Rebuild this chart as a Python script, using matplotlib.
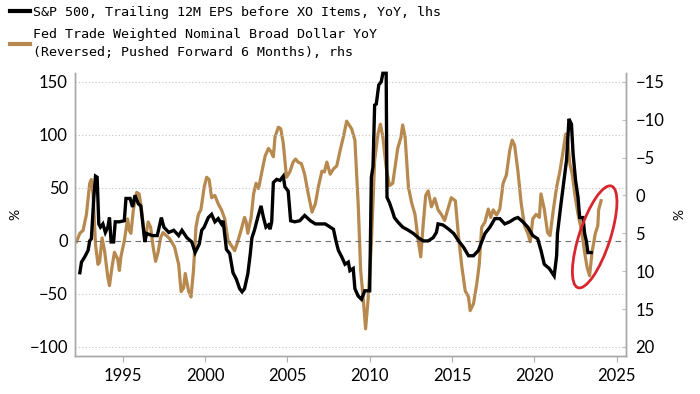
import numpy as np
import matplotlib
matplotlib.use("Agg")
import matplotlib.pyplot as plt
from matplotlib.lines import Line2D
from matplotlib.patches import Ellipse
from matplotlib.transforms import ScaledTranslation

# S&P 500 trailing 12M EPS YoY (%), left axis
eps_years = [1992.4, 1992.5, 1992.7, 1992.9, 1993.0, 1993.1, 1993.25, 1993.35, 1993.45, 1993.55,
             1993.65, 1993.8, 1993.95, 1994.1, 1994.2, 1994.3, 1994.45, 1994.55, 1994.8, 1995.1,
             1995.2, 1995.45, 1995.6, 1995.75, 1995.95, 1996.1, 1996.35, 1996.45, 1996.8, 1997.1,
             1997.35, 1997.5, 1997.8, 1998.1, 1998.4, 1998.6, 1998.9, 1999.2, 1999.4, 1999.65,
             1999.8, 1999.95, 2000.2, 2000.4, 2000.6, 2000.8, 2001.0, 2001.1, 2001.3, 2001.5,
             2001.7, 2001.9, 2002.1, 2002.25, 2002.4, 2002.6, 2002.75, 2002.85, 2003.0, 2003.2,
             2003.4, 2003.55, 2003.7, 2003.85, 2003.95, 2004.05, 2004.15, 2004.35, 2004.55, 2004.75,
             2004.85, 2005.05, 2005.2, 2005.45, 2005.75, 2006.05, 2006.4, 2006.7, 2007.0, 2007.3,
             2007.6, 2007.8, 2007.95, 2008.1, 2008.3, 2008.5, 2008.7, 2008.8, 2009.0, 2009.1,
             2009.3, 2009.5, 2009.7, 2010.0, 2010.1, 2010.2, 2010.3, 2010.4, 2010.55, 2010.7,
             2010.8, 2011.0, 2011.05, 2011.2, 2011.4, 2011.5, 2011.7, 2012.0, 2012.35, 2012.65,
             2012.95, 2013.25, 2013.55, 2013.85, 2014.05, 2014.15, 2014.45, 2014.8, 2015.1, 2015.4,
             2015.7, 2016.0, 2016.3, 2016.6, 2016.8, 2017.0, 2017.3, 2017.6, 2017.9, 2018.2,
             2018.5, 2018.8, 2019.0, 2019.3, 2019.6, 2019.9, 2020.2, 2020.4, 2020.6, 2020.9,
             2021.2, 2021.35, 2021.4, 2021.6, 2021.8, 2021.95, 2022.1, 2022.25, 2022.35, 2022.5,
             2022.65, 2022.75, 2022.95, 2023.05, 2023.15, 2023.25, 2023.45]
eps_yoy = [-30, -20, -15, -9, 0, 2, 41, 61, 60, 16,
           13, 16, 8, 13, 22, -1, -1, 18, 18, 19,
           40, 40, 32, 43, 35, 33, -1, 7, 5, 5,
           22, 13, 8, 10, 5, 10, 3, -1, -11, -3,
           10, 13, 22, 25, 18, 21, 16, 19, -8, -12,
           -30, -36, -45, -48, -45, -31, -12, 3, 10, 22,
           33, 22, 13, 15, 11, 18, 55, 58, 57, 61,
           51, 47, 19, 18, 19, 24, 19, 16, 16, 16,
           13, 11, 0, -9, -15, -22, -20, -28, -26, -45,
           -52, -55, -47, -47, 60, 70, 128, 129, 147, 150,
           158, 158, 41, 36, 27, 22, 18, 13, 10, 7,
           3, 0, 0, 3, 8, 16, 15, 11, 7, 0,
           -6, -14, -14, -9, -1, 7, 13, 21, 21, 16,
           18, 21, 22, 18, 13, 5, 2, -9, -22, -26,
           -33, -14, 7, 33, 58, 76, 115, 110, 82, 57,
           41, 22, 22, 7, 0, -11, -11]

# Fed trade weighted broad dollar YoY (%), pushed forward 6 months, right axis (reversed)
usd_years = [1992.2, 1992.4, 1992.6, 1992.8, 1993.0, 1993.1, 1993.2, 1993.35, 1993.5, 1993.6,
             1993.75, 1993.9, 1994.1, 1994.2, 1994.35, 1994.5, 1994.7, 1994.8, 1994.9, 1995.1,
             1995.3, 1995.4, 1995.5, 1995.65, 1995.85, 1996.0, 1996.15, 1996.35, 1996.55, 1996.7,
             1996.85, 1997.0, 1997.15, 1997.3, 1997.45, 1997.65, 1997.85, 1998.15, 1998.4, 1998.55,
             1998.7, 1998.8, 1999.0, 1999.15, 1999.3, 1999.45, 1999.6, 1999.75, 1999.95, 2000.1,
             2000.25, 2000.4, 2000.6, 2000.8, 2001.0, 2001.2, 2001.4, 2001.6, 2001.8, 2002.0,
             2002.2, 2002.4, 2002.5, 2002.6, 2002.8, 2002.95, 2003.1, 2003.25, 2003.45, 2003.65,
             2003.85, 2004.0, 2004.15, 2004.25, 2004.45, 2004.6, 2004.75, 2004.95, 2005.15, 2005.35,
             2005.5, 2005.65, 2005.85, 2006.05, 2006.25, 2006.5, 2006.7, 2006.9, 2007.1, 2007.25,
             2007.4, 2007.6, 2007.8, 2008.0, 2008.2, 2008.4, 2008.6, 2008.9, 2009.1, 2009.3,
             2009.45, 2009.6, 2009.75, 2009.9, 2010.1, 2010.3, 2010.5, 2010.65, 2010.8, 2011.0,
             2011.2, 2011.4, 2011.5, 2011.7, 2011.9, 2012.0, 2012.15, 2012.35, 2012.55, 2012.75,
             2012.95, 2013.1, 2013.25, 2013.4, 2013.55, 2013.75, 2013.95, 2014.15, 2014.35, 2014.55,
             2014.75, 2014.95, 2015.2, 2015.4, 2015.6, 2015.8, 2016.0, 2016.1, 2016.3, 2016.5,
             2016.65, 2016.8, 2017.0, 2017.2, 2017.35, 2017.5, 2017.7, 2017.9, 2018.1, 2018.3,
             2018.5, 2018.65, 2018.8, 2019.0, 2019.2, 2019.4, 2019.6, 2019.75, 2019.9, 2020.1,
             2020.3, 2020.4, 2020.6, 2020.8, 2020.95, 2021.15, 2021.35, 2021.55, 2021.75, 2021.9,
             2022.0, 2022.15, 2022.3, 2022.45, 2022.65, 2022.85, 2023.05, 2023.2, 2023.35, 2023.5,
             2023.7, 2023.85, 2023.9, 2024.05]
usd_yoy = [6.1, 5.0, 4.6, 2.5, -1.6, -2.1, -0.2, 6.4, 9.1, 8.8,
           5.6, 7.3, 10.8, 11.9, 9.5, 7.5, 8.4, 9.9, 8.0, 6.0,
           3.1, 4.6, 5.0, 1.9, -0.4, -0.2, 1.9, 6.0, 3.5, 4.2,
           6.8, 8.7, 7.5, 5.6, 4.9, 5.3, 5.7, 6.8, 9.1, 12.7,
           12.2, 10.3, 12.6, 13.4, 9.9, 4.2, 2.5, 1.9, -1.1, -2.4,
           -2.1, 0.3, 0.0, 1.1, 1.9, 3.1, 6.0, 6.6, 7.3, 6.0,
           4.5, 2.9, 3.5, 5.0, 2.9, -0.2, -1.6, -0.9, -3.1, -5.2,
           -6.2, -5.8, -5.1, -7.7, -9.0, -8.8, -6.9, -2.4, -3.1, -4.4,
           -4.8, -4.4, -4.2, -2.8, -0.4, 2.2, 1.1, -1.3, -3.2, -3.1,
           -4.4, -2.8, -3.5, -3.9, -5.9, -7.7, -9.8, -8.8, -7.3, 1.1,
           9.9, 13.4, 17.6, 13.8, 6.4, -4.6, -8.1, -9.4, -7.7, -3.7,
           -1.3, -1.6, -3.1, -6.2, -7.7, -9.3, -7.7, -1.1, 1.0, 2.5,
           6.0, 8.1, 3.8, 0.0, -0.6, 1.5, 0.4, 1.9, 2.5, 3.3,
           1.8, 0.3, 0.7, 5.6, 9.5, 12.6, 13.4, 15.2, 14.3, 11.7,
           9.1, 4.2, 3.5, 1.8, 2.9, 1.9, 2.6, 1.8, -1.6, -2.7,
           -5.9, -7.3, -6.6, -3.2, 1.1, 4.0, 5.0, 6.1, 3.1, 2.5,
           2.9, -0.2, 1.8, 4.9, 5.3, 1.9, -1.1, -3.2, -5.9, -8.1,
           -7.7, -4.2, -2.8, -0.2, 2.5, 4.5, 7.5, 9.5, 10.6, 7.5,
           5.0, 4.0, 1.9, 0.7]

left_ticks = [-100, -50, 0, 50, 100, 150]
right_ticks = [-15, -10, -5, 0, 5, 10, 15, 20]
year_ticks = [1995, 2000, 2005, 2010, 2015, 2020, 2025]

gold = '#B8894F'
tick_font = 'Lato'

fig = plt.figure(figsize=(7, 3.94), dpi=100)
ax1 = fig.add_axes([0.107, 0.0964, 0.787, 0.719])
ax2 = ax1.twinx()

# black on top of the gold line
ax1.set_zorder(ax2.get_zorder() + 1)
ax1.patch.set_visible(False)

ax2.plot(usd_years, usd_yoy, color=gold, lw=2.3, solid_joinstyle='round')
ax1.plot(eps_years, eps_yoy, color='black', lw=2.4, solid_joinstyle='miter', clip_on=False)

ax1.set_xlim(1992.1, 2025.55)
ax1.set_ylim(-108.5, 158.5)
ax2.set_ylim(21.19, -16.19)  # reversed

for v in left_ticks:
    if v == 0:
        ax1.axhline(v, color='#707070', lw=0.8, ls=(0, (5, 4)), zorder=1)
    else:
        ax1.axhline(v, color='#c4c4c4', lw=0.8, ls=(0, (1, 2)), zorder=1)

ax1.set_yticks(left_ticks)
ax2.set_yticks(right_ticks)
ax1.set_xticks(year_ticks)

for ax in (ax1, ax2):
    ax.spines['top'].set_visible(False)
    for s in ('left', 'right', 'bottom'):
        ax.spines[s].set_color('#a8a8a8')
        ax.spines[s].set_linewidth(1.0)

ax1.tick_params(axis='y', length=0, pad=5, labelsize=12)
ax1.tick_params(axis='x', length=4.5, width=0.8, color='#b0b0b0', pad=4, labelsize=12)
ax2.tick_params(axis='y', direction='in', length=3, width=0.8, color='#c0c0c0', pad=7, labelsize=12)
for lab in ax1.get_xticklabels() + ax1.get_yticklabels() + ax2.get_yticklabels():
    lab.set_fontfamily(tick_font)

ax1.set_ylabel('%', fontsize=10, family=tick_font, labelpad=6)
ax2.set_ylabel('%', fontsize=10, family=tick_font, rotation=270, labelpad=12)

# red ellipse highlighting the latest turn
ell_center = (2023.66, 3.8)
ell = Ellipse((0, 0), 1.07, 0.31, angle=71.8, fill=False, edgecolor='#d8262e', lw=2.0,
              transform=fig.dpi_scale_trans + ScaledTranslation(ell_center[0], ell_center[1], ax1.transData),
              zorder=5)
ax1.add_patch(ell)

handles = [Line2D([], [], color='black', lw=3), Line2D([], [], color=gold, lw=3)]
labels = ['S&P 500, Trailing 12M EPS before XO Items, YoY, lhs',
          'Fed Trade Weighted Nominal Broad Dollar YoY\n(Reversed; Pushed Forward 6 Months), rhs']
leg = fig.legend(handles, labels, loc='upper left', bbox_to_anchor=(10 / 700, 1 - 6 / 394),
                 frameon=False, borderpad=0, borderaxespad=0, handlelength=1.5, handletextpad=0.2,
                 labelspacing=0.7, prop={'family': 'DejaVu Sans Mono', 'size': 9.6})
for t in leg.get_texts():
    t.set_linespacing(1.45)

fig.savefig('out.png', dpi=100)
